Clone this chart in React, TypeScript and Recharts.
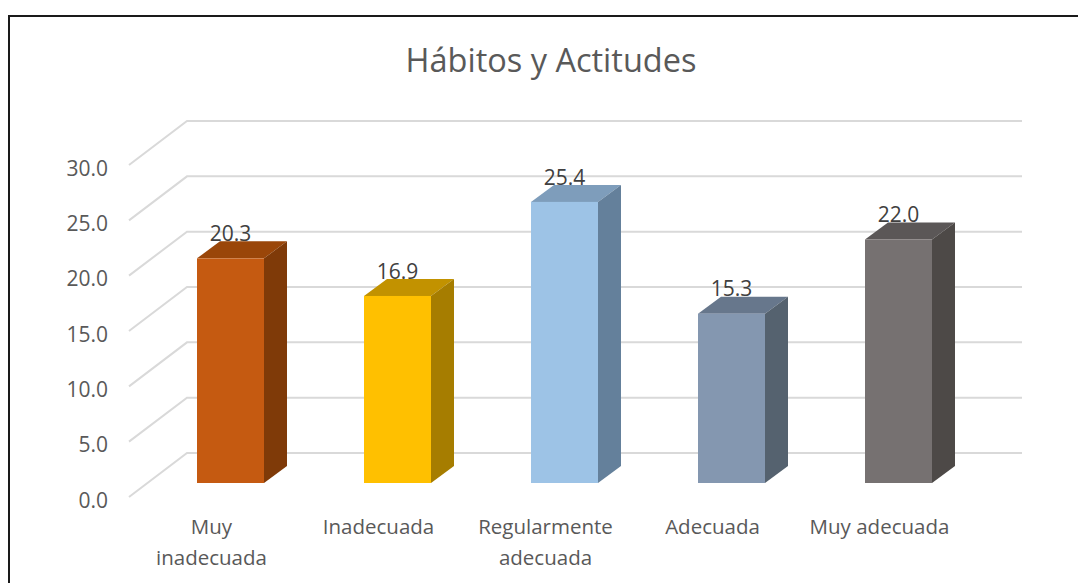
import { BarChart, Bar, XAxis, YAxis, CartesianGrid, LabelList } from 'recharts';

const categories = ['Muy inadecuada', 'Inadecuada', 'Regularmente adecuada', 'Adecuada', 'Muy adecuada'];
const categoryLines: Record<string, string[]> = {
  'Muy inadecuada': ['Muy', 'inadecuada'],
  'Regularmente adecuada': ['Regularmente', 'adecuada'],
};
const values = [20.3, 16.9, 25.4, 15.3, 22.0];
const frontColors = ['#C55A11', '#FFC000', '#9DC3E6', '#8497B0', '#767171'];
const topColors = ['#9A4609', '#C29200', '#7E9DBB', '#67778C', '#5B5757'];
const sideColors = ['#7F3A08', '#A67D00', '#64809B', '#55626F', '#4D4947'];
const yTicks = [0, 5, 10, 15, 20, 25, 30];

const data = categories.map((name, i) => ({ name, value: values[i] }));

const FONT = '"Open Sans", sans-serif';
const DEPTH_X = 23;
const DEPTH_Y = 17;

const Bar3D = ({ x, y, width, height, index }: any) => (
  <g>
    <path
      d={`M${x},${y} l${DEPTH_X},${-DEPTH_Y} h${width} l${-DEPTH_X},${DEPTH_Y} z`}
      fill={topColors[index]}
    />
    <path
      d={`M${x + width},${y} l${DEPTH_X},${-DEPTH_Y} v${height} l${-DEPTH_X},${DEPTH_Y} z`}
      fill={sideColors[index]}
    />
    <rect x={x} y={y} width={width} height={height} fill={frontColors[index]} />
  </g>
);

// back wall line plus the slanted bit on the side wall
const WallLine = ({ x1, x2, y1 }: any) => (
  <path
    d={`M${x1 - 18},${y1 + 14} L${x1 + 40},${y1 - 30} H${x2 + 40}`}
    fill="none"
    stroke="#D9D9D9"
    strokeWidth={2}
  />
);

const YTick = ({ x, y, payload }: any) => (
  <text x={x} y={y + 19} textAnchor="end" dominantBaseline="middle" fontFamily={FONT} fontSize={21} fill="#595959">
    {payload.value.toFixed(1)}
  </text>
);

const XTick = ({ x, y, payload }: any) => {
  const lines = categoryLines[payload.value] ?? [payload.value];
  return (
    <text x={x - 19} y={y} textAnchor="middle" fontFamily={FONT} fontSize={20.5} fill="#595959">
      {lines.map((w, i) => (
        <tspan key={i} x={x - 19} dy={i === 0 ? 0 : 31}>{w}</tspan>
      ))}
    </text>
  );
};

const ValueLabel = ({ x, y, width, value }: any) => (
  <text x={x + width / 2} y={y - 23} textAnchor="middle" dominantBaseline="middle" fontFamily={FONT} fontSize={21} fill="#404040">
    {value.toFixed(1)}
  </text>
);

export default function App() {
  return (
    <div style={{ position: 'fixed', left: 0, top: 0, width: 1078, height: 583, background: '#fff', overflow: 'hidden' }}>
      <style>{'body { margin: 0; }'}</style>
      <div style={{ position: 'absolute', left: 8, top: 15, width: 1100, height: 600, borderTop: '2px solid #1a1a1a', borderLeft: '2px solid #1a1a1a' }} />
      <BarChart
        width={1078}
        height={583}
        data={data}
        barCategoryGap={50}
        margin={{ top: 151, right: 96, bottom: 70, left: 87 }}
        style={{ position: 'absolute', left: 0, top: 0 }}
      >
        <text x={551} y={63} textAnchor="middle" dominantBaseline="middle" fontFamily={FONT} fontSize={32.5} fill="#595959">
          Hábitos y Actitudes
        </text>
        <CartesianGrid vertical={false} horizontal={(p: any) => <WallLine {...p} />} />
        <XAxis dataKey="name" height={30} axisLine={false} tickLine={false} interval={0} tick={<XTick />} tickMargin={45} />
        <YAxis
          domain={[0, 30]}
          ticks={yTicks}
          width={60}
          axisLine={false}
          tickLine={false}
          tick={<YTick />}
          tickMargin={33}
        />
        <Bar dataKey="value" isAnimationActive={false} shape={<Bar3D />}>
          <LabelList dataKey="value" content={<ValueLabel />} />
        </Bar>
      </BarChart>
    </div>
  );
}
